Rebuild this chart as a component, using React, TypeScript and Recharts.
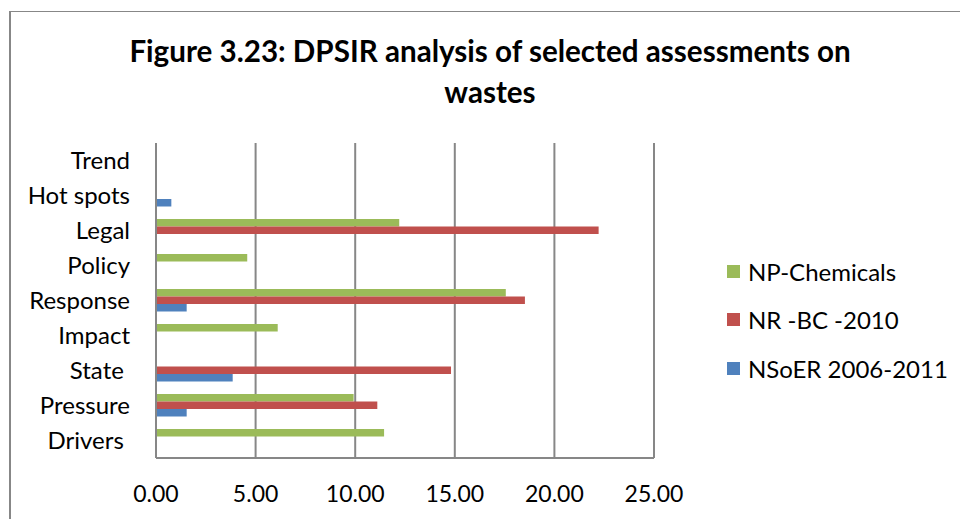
import { Bar, BarChart, CartesianGrid, XAxis, YAxis } from 'recharts';

// categories top to bottom, as drawn
const categories = ['Trend', 'Hot spots', 'Legal', 'Policy', 'Response', 'Impact', 'State ', 'Pressure', 'Drivers '];
const npChemicals = [null, null, 12.21, 4.58, 17.56, 6.11, null, 9.92, 11.45];
const nrBc2010 = [null, null, 22.22, null, 18.52, null, 14.81, 11.11, null];
const nsoer = [null, 0.77, null, null, 1.54, null, 3.85, 1.54, null];
const xTicks = [0, 5, 10, 15, 20, 25];

const COLOR = {
  green: '#9bbb59',
  red: '#c0504d',
  blue: '#4f81bd',
  grid: '#878787',
  text: '#000000',
};

const FONT = 'Lato, "Open Sans", sans-serif';

// legend order = draw order within each group (top to bottom)
const SERIES = [
  { key: 'np', name: 'NP-Chemicals', color: COLOR.green },
  { key: 'nr', name: 'NR -BC -2010', color: COLOR.red },
  { key: 'ns', name: 'NSoER 2006-2011', color: COLOR.blue },
];

const data = categories.map((name, i) => ({
  name,
  np: npChemicals[i],
  nr: nrBc2010[i],
  ns: nsoer[i],
}));

function CategoryTick(props: any) {
  const { x, y, payload } = props;
  return (
    <text
      x={x}
      y={y}
      dy={8}
      textAnchor="end"
      fontSize={24}
      fontFamily={FONT}
      fill={COLOR.text}
      style={{ whiteSpace: 'pre' }}
    >
      {payload.value}
    </text>
  );
}

function LegendBox() {
  return (
    <div
      style={{
        position: 'absolute',
        left: 727,
        top: 247,
        fontFamily: FONT,
        fontSize: 24,
        color: COLOR.text,
      }}
    >
      {SERIES.map((s) => (
        <div key={s.key} style={{ display: 'flex', alignItems: 'center', height: 48.5 }}>
          <span style={{ width: 13, height: 13, background: s.color, marginRight: 8, display: 'inline-block' }} />
          <span style={{ whiteSpace: 'pre' }}>{s.name}</span>
        </div>
      ))}
    </div>
  );
}

export default function App() {
  return (
    <div
      style={{
        position: 'fixed',
        left: 0,
        top: 0,
        width: 960,
        height: 519,
        overflow: 'hidden',
        background: '#fff',
      }}
    >
      <div
        style={{
          position: 'absolute',
          left: 9,
          top: 11,
          width: 1000,
          height: 600,
          borderTop: `1.5px solid ${COLOR.grid}`,
          borderLeft: `2px solid ${COLOR.grid}`,
        }}
      />
      <svg width={960} height={120} style={{ position: 'absolute', left: 0, top: 0 }}>
        <text x={490} y={62} textAnchor="middle" fontSize={29.6} fontWeight={700} fontFamily={FONT} fill={COLOR.text}>
          Figure 3.23: DPSIR analysis of selected assessments on
        </text>
        <text x={490} y={103} textAnchor="middle" fontSize={29.6} fontWeight={700} fontFamily={FONT} fill={COLOR.text}>
          wastes
        </text>
      </svg>
      <div style={{ position: 'absolute', left: 0, top: 0 }}>
        <BarChart
          width={960}
          height={519}
          data={data}
          layout="vertical"
          margin={{ top: 143, right: 306, bottom: 21, left: 10 }}
          barGap={0}
          barSize={7.5}
        >
          <CartesianGrid horizontal={false} stroke={COLOR.grid} strokeWidth={2} />
          <XAxis
            type="number"
            domain={[0, 25]}
            ticks={xTicks}
            tickFormatter={(v: number) => v.toFixed(2)}
            stroke={COLOR.grid}
            strokeWidth={2}
            tickLine={false}
            tickSize={0}
            tickMargin={28}
            height={40}
            tick={{ fill: COLOR.text, fontSize: 23, fontFamily: FONT }}
          />
          <YAxis
            type="category"
            dataKey="name"
            width={146}
            stroke={COLOR.grid}
            strokeWidth={2}
            tickLine={false}
            tickSize={0}
            tickMargin={26}
            interval={0}
            tick={<CategoryTick />}
          />
          {SERIES.map((s) => (
            <Bar key={s.key} dataKey={s.key} name={s.name} fill={s.color} isAnimationActive={false} />
          ))}
        </BarChart>
      </div>
      <LegendBox />
    </div>
  );
}
